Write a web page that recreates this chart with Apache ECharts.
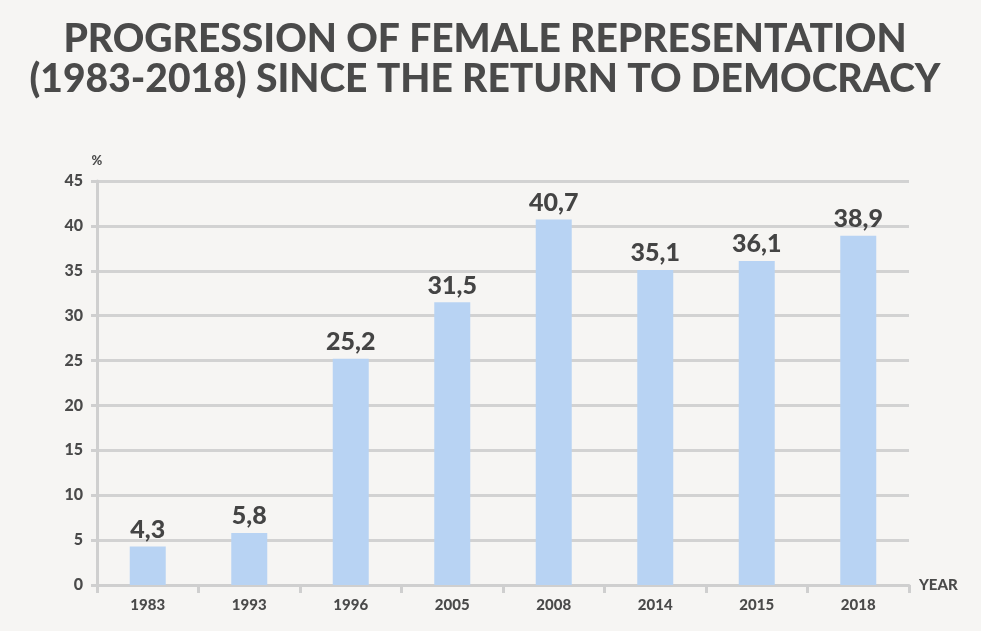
<!DOCTYPE html>
<html>
<head>
<meta charset="utf-8">
<script src="https://cdn.jsdelivr.net/npm/echarts@6/dist/echarts.min.js"></script>
<style>
html,body{margin:0;padding:0;background:#f6f5f3;}
#chart{width:981px;height:631px;}
</style>
</head>
<body>
<div id="chart"></div>
<script>
const categories = ['1983','1993','1996','2005','2008','2014','2015','2018'];
const values = [4.3, 5.8, 25.2, 31.5, 40.7, 35.1, 36.1, 38.9];
const yTicks = [0,5,10,15,20,25,30,35,40,45];

const chart = echarts.init(document.getElementById('chart'));
const font = 'Lato, "Open Sans", sans-serif';
chart.setOption({
  backgroundColor: '#f6f5f3',
  title: {
    text: 'PROGRESSION OF FEMALE REPRESENTATION\n(1983-2018) SINCE THE RETURN TO DEMOCRACY',
    left: 480, top: 14, textAlign: 'center',
    textStyle: {fontFamily: font, fontWeight: 900, fontSize: 39, color: '#4a4a4a', lineHeight: 40}
  },
  grid: {left: 97, right: 72, top: 181, bottom: 46},
  xAxis: {
    type: 'category', data: categories,
    name: 'YEAR', nameLocation: 'end', nameGap: 10,
    nameTextStyle: {fontFamily: font, fontWeight: 900, fontSize: 15, color: '#4a4a4a', verticalAlign: 'middle'},
    axisLine: {show: true, lineStyle: {color: '#cfcfcf', width: 3}},
    axisTick: {show: true, length: 8, lineStyle: {color: '#cfcfcf', width: 3}},
    axisLabel: {fontFamily: font, fontWeight: 900, fontSize: 15, color: '#4a4a4a', margin: 13}
  },
  yAxis: {
    type: 'value', min: 0, max: 45, interval: 5,
    name: '%', nameLocation: 'end', nameGap: 14,
    nameTextStyle: {fontFamily: font, fontWeight: 900, fontSize: 13, color: '#4a4a4a', align: 'center'},
    axisLine: {show: true, lineStyle: {color: '#cfcfcf', width: 3}},
    axisTick: {show: true, length: 6, lineStyle: {color: '#cfcfcf', width: 3}},
    splitLine: {lineStyle: {color: '#d2d2d2', width: 3}},
    axisLabel: {fontFamily: font, fontWeight: 900, fontSize: 16, color: '#4a4a4a', margin: 14,
      formatter: v => yTicks.includes(v) ? String(v) : ''}
  },
  series: [{
    type: 'bar', data: values, barWidth: 36,
    itemStyle: {color: '#b8d3f3'},
    label: {show: true, position: 'top', distance: 4,
      fontFamily: font, fontWeight: 900, fontSize: 25, color: '#444',
      formatter: p => String(p.value).replace('.', ',')}
  }]
});
</script>
</body>
</html>
